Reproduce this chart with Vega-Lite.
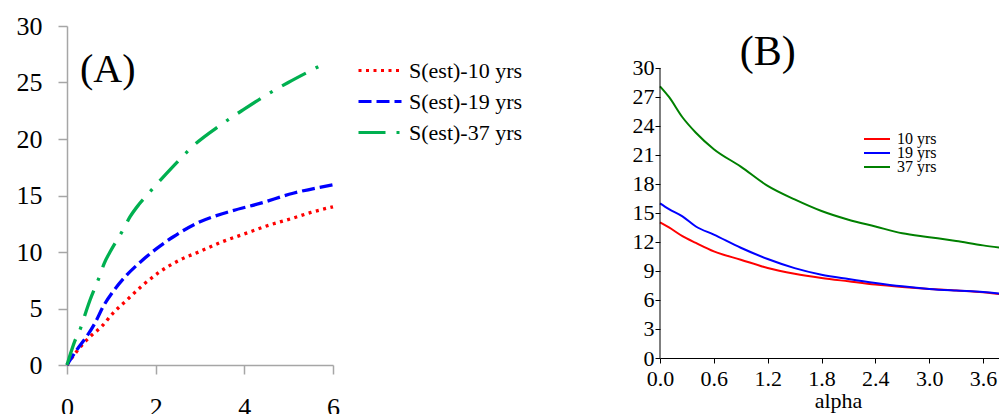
{
  "$schema": "https://vega.github.io/schema/vega-lite/v6.json",
  "background": "white",
  "padding": {"left": 16, "top": 13, "right": 0, "bottom": 0},
  "spacing": 109,
  "resolve": {"scale": {"color": "independent", "strokeDash": "independent", "x": "independent", "y": "independent"}, "legend": {"color": "independent", "strokeDash": "independent"}},
  "config": {
    "view": {"stroke": null},
    "font": "Liberation Serif",
    "axis": {"labelFont": "Liberation Serif", "titleFont": "Liberation Serif", "grid": false, "labelColor": "black", "titleColor": "black", "labelOverlap": false},
    "legend": {"labelFont": "Liberation Serif", "labelColor": "black"}
  },
  "hconcat": [
    {
      "width": 266,
      "height": 339,
      "layer": [
        {
          "data": {"values": [
            {"x": 0, "y": 0, "series": "S(est)-10 yrs"},
            {"x": 0.3, "y": 1.6, "series": "S(est)-10 yrs"},
            {"x": 0.52, "y": 2.5, "series": "S(est)-10 yrs"},
            {"x": 0.78, "y": 3.4, "series": "S(est)-10 yrs"},
            {"x": 1.04, "y": 4.6, "series": "S(est)-10 yrs"},
            {"x": 1.35, "y": 5.75, "series": "S(est)-10 yrs"},
            {"x": 1.72, "y": 7.1, "series": "S(est)-10 yrs"},
            {"x": 2.1, "y": 8.26, "series": "S(est)-10 yrs"},
            {"x": 2.55, "y": 9.3, "series": "S(est)-10 yrs"},
            {"x": 3.0, "y": 10.05, "series": "S(est)-10 yrs"},
            {"x": 3.5, "y": 10.9, "series": "S(est)-10 yrs"},
            {"x": 4.0, "y": 11.6, "series": "S(est)-10 yrs"},
            {"x": 4.5, "y": 12.3, "series": "S(est)-10 yrs"},
            {"x": 5.1, "y": 13.0, "series": "S(est)-10 yrs"},
            {"x": 5.5, "y": 13.5, "series": "S(est)-10 yrs"},
            {"x": 6.0, "y": 14.0, "series": "S(est)-10 yrs"},
            {"x": 0, "y": 0, "series": "S(est)-19 yrs"},
            {"x": 0.22, "y": 1.33, "series": "S(est)-19 yrs"},
            {"x": 0.44, "y": 2.5, "series": "S(est)-19 yrs"},
            {"x": 0.63, "y": 3.7, "series": "S(est)-19 yrs"},
            {"x": 0.82, "y": 5.2, "series": "S(est)-19 yrs"},
            {"x": 1.04, "y": 6.5, "series": "S(est)-19 yrs"},
            {"x": 1.31, "y": 7.8, "series": "S(est)-19 yrs"},
            {"x": 1.65, "y": 9.1, "series": "S(est)-19 yrs"},
            {"x": 2.02, "y": 10.3, "series": "S(est)-19 yrs"},
            {"x": 2.4, "y": 11.35, "series": "S(est)-19 yrs"},
            {"x": 2.96, "y": 12.6, "series": "S(est)-19 yrs"},
            {"x": 3.6, "y": 13.5, "series": "S(est)-19 yrs"},
            {"x": 4.35, "y": 14.3, "series": "S(est)-19 yrs"},
            {"x": 5.1, "y": 15.2, "series": "S(est)-19 yrs"},
            {"x": 6.0, "y": 15.95, "series": "S(est)-19 yrs"},
            {"x": 0, "y": 0, "series": "S(est)-37 yrs"},
            {"x": 0.18, "y": 2.15, "series": "S(est)-37 yrs"},
            {"x": 0.31, "y": 3.3, "series": "S(est)-37 yrs"},
            {"x": 0.41, "y": 4.5, "series": "S(est)-37 yrs"},
            {"x": 0.52, "y": 5.75, "series": "S(est)-37 yrs"},
            {"x": 0.73, "y": 7.8, "series": "S(est)-37 yrs"},
            {"x": 0.84, "y": 9.0, "series": "S(est)-37 yrs"},
            {"x": 0.97, "y": 10.0, "series": "S(est)-37 yrs"},
            {"x": 1.27, "y": 12.0, "series": "S(est)-37 yrs"},
            {"x": 1.42, "y": 13.1, "series": "S(est)-37 yrs"},
            {"x": 1.62, "y": 14.2, "series": "S(est)-37 yrs"},
            {"x": 1.82, "y": 15.1, "series": "S(est)-37 yrs"},
            {"x": 2.4, "y": 17.6, "series": "S(est)-37 yrs"},
            {"x": 2.85, "y": 19.4, "series": "S(est)-37 yrs"},
            {"x": 3.45, "y": 21.2, "series": "S(est)-37 yrs"},
            {"x": 3.98, "y": 22.6, "series": "S(est)-37 yrs"},
            {"x": 4.5, "y": 23.9, "series": "S(est)-37 yrs"},
            {"x": 4.99, "y": 25.0, "series": "S(est)-37 yrs"},
            {"x": 5.52, "y": 26.1, "series": "S(est)-37 yrs"},
            {"x": 5.82, "y": 26.7, "series": "S(est)-37 yrs"}
          ]},
          "mark": {"type": "line", "interpolate": "monotone", "strokeWidth": 3.3},
          "encoding": {
            "x": {"field": "x", "type": "quantitative", "scale": {"domain": [0, 6], "nice": false},
              "axis": {"values": [0, 2, 4, 6], "format": "d", "title": null, "labelFontSize": 26, "labelPadding": 20, "labelFlush": false, "labelOverlap": false, "tickSize": 9, "domainColor": "#a6a6a6", "tickColor": "#a6a6a6", "domainWidth": 1.5, "tickWidth": 1.5}},
            "y": {"field": "y", "type": "quantitative", "scale": {"domain": [0, 30], "nice": false},
              "axis": {"values": [0, 5, 10, 15, 20, 25, 30], "format": "d", "tickCount": 10, "title": null, "labelFontSize": 26, "labelPadding": 16, "labelOverlap": false, "tickSize": 9, "domainColor": "#a6a6a6", "tickColor": "#a6a6a6", "domainWidth": 1.5, "tickWidth": 1.5}},
            "color": {"field": "series", "type": "nominal", "title": null,
              "scale": {"domain": ["S(est)-10 yrs", "S(est)-19 yrs", "S(est)-37 yrs"], "range": ["#ff0000", "#0000ff", "#00b050"]},
              "legend": {"orient": "none", "legendX": 290, "legendY": 29, "labelFontSize": 22, "symbolType": "stroke", "symbolSize": 1849, "symbolStrokeWidth": 3, "labelOffset": 6, "rowPadding": 0, "clipHeight": 31}},
            "strokeDash": {"field": "series", "type": "nominal", "title": null,
              "scale": {"domain": ["S(est)-10 yrs", "S(est)-19 yrs", "S(est)-37 yrs"], "range": [[3, 4.5], [13, 5], [27, 11, 3, 11]]},
              "legend": {"orient": "none", "legendX": 290, "legendY": 29, "labelFontSize": 22, "symbolType": "stroke", "symbolSize": 1849, "symbolStrokeWidth": 3, "labelOffset": 6, "rowPadding": 0, "clipHeight": 31}}
          }
        },
        {
          "data": {"values": [{"label": "(A)", "x": 0.92, "y": 26.1}]},
          "mark": {"type": "text", "fontSize": 40, "font": "Liberation Serif", "align": "center", "baseline": "middle", "color": "black"},
          "encoding": {
            "x": {"field": "x", "type": "quantitative"},
            "y": {"field": "y", "type": "quantitative"},
            "text": {"field": "label"}
          }
        }
      ]
    },
    {
      "width": 341,
      "height": 332,
      "layer": [
        {
          "data": {"values": [
            {"alpha": 0, "value": 14.03, "series": "10 yrs"},
            {"alpha": 0.1, "value": 13.5, "series": "10 yrs"},
            {"alpha": 0.25, "value": 12.6, "series": "10 yrs"},
            {"alpha": 0.4, "value": 11.9, "series": "10 yrs"},
            {"alpha": 0.6, "value": 11.03, "series": "10 yrs"},
            {"alpha": 0.9, "value": 10.17, "series": "10 yrs"},
            {"alpha": 1.2, "value": 9.31, "series": "10 yrs"},
            {"alpha": 1.5, "value": 8.72, "series": "10 yrs"},
            {"alpha": 1.8, "value": 8.28, "series": "10 yrs"},
            {"alpha": 2.1, "value": 7.93, "series": "10 yrs"},
            {"alpha": 2.4, "value": 7.59, "series": "10 yrs"},
            {"alpha": 2.7, "value": 7.34, "series": "10 yrs"},
            {"alpha": 3.0, "value": 7.14, "series": "10 yrs"},
            {"alpha": 3.3, "value": 6.97, "series": "10 yrs"},
            {"alpha": 3.6, "value": 6.79, "series": "10 yrs"},
            {"alpha": 3.8, "value": 6.59, "series": "10 yrs"},
            {"alpha": 0, "value": 16.0, "series": "19 yrs"},
            {"alpha": 0.1, "value": 15.4, "series": "19 yrs"},
            {"alpha": 0.25, "value": 14.65, "series": "19 yrs"},
            {"alpha": 0.4, "value": 13.6, "series": "19 yrs"},
            {"alpha": 0.6, "value": 12.76, "series": "19 yrs"},
            {"alpha": 0.9, "value": 11.4, "series": "19 yrs"},
            {"alpha": 1.2, "value": 10.24, "series": "19 yrs"},
            {"alpha": 1.5, "value": 9.3, "series": "19 yrs"},
            {"alpha": 1.8, "value": 8.62, "series": "19 yrs"},
            {"alpha": 2.1, "value": 8.17, "series": "19 yrs"},
            {"alpha": 2.4, "value": 7.76, "series": "19 yrs"},
            {"alpha": 2.7, "value": 7.41, "series": "19 yrs"},
            {"alpha": 3.0, "value": 7.14, "series": "19 yrs"},
            {"alpha": 3.3, "value": 6.97, "series": "19 yrs"},
            {"alpha": 3.6, "value": 6.83, "series": "19 yrs"},
            {"alpha": 3.8, "value": 6.66, "series": "19 yrs"},
            {"alpha": 0, "value": 28.1, "series": "37 yrs"},
            {"alpha": 0.1, "value": 27.0, "series": "37 yrs"},
            {"alpha": 0.25, "value": 24.9, "series": "37 yrs"},
            {"alpha": 0.4, "value": 23.3, "series": "37 yrs"},
            {"alpha": 0.6, "value": 21.6, "series": "37 yrs"},
            {"alpha": 0.9, "value": 19.8, "series": "37 yrs"},
            {"alpha": 1.2, "value": 17.8, "series": "37 yrs"},
            {"alpha": 1.5, "value": 16.4, "series": "37 yrs"},
            {"alpha": 1.8, "value": 15.2, "series": "37 yrs"},
            {"alpha": 2.1, "value": 14.3, "series": "37 yrs"},
            {"alpha": 2.4, "value": 13.6, "series": "37 yrs"},
            {"alpha": 2.7, "value": 12.9, "series": "37 yrs"},
            {"alpha": 3.0, "value": 12.5, "series": "37 yrs"},
            {"alpha": 3.3, "value": 12.1, "series": "37 yrs"},
            {"alpha": 3.6, "value": 11.65, "series": "37 yrs"},
            {"alpha": 3.8, "value": 11.4, "series": "37 yrs"}
          ]},
          "mark": {"type": "line", "interpolate": "monotone", "strokeWidth": 2},
          "encoding": {
            "x": {"field": "alpha", "type": "quantitative", "scale": {"domain": [0, 3.8], "nice": false},
              "axis": {"values": [0, 0.6, 1.2, 1.8, 2.4, 3.0, 3.6], "tickCount": 12, "format": ".1f", "title": "alpha", "labelFontSize": 22, "labelPadding": 5, "labelFlush": false, "labelOverlap": false, "tickSize": 5, "domainColor": "black", "tickColor": "black", "titleFontSize": 22, "titleFontWeight": "normal", "titlePadding": 1, "titleX": 178}},
            "y": {"field": "value", "type": "quantitative", "scale": {"domain": [0, 34.34], "nice": false},
              "axis": {"values": [0, 3, 6, 9, 12, 15, 18, 21, 24, 27, 30], "format": "d", "tickCount": 14, "title": null, "domain": false, "labelFontSize": 22, "labelPadding": 1, "labelOverlap": false, "tickSize": 5, "tickColor": "black"}},
            "color": {"field": "series", "type": "nominal", "title": null,
              "scale": {"domain": ["10 yrs", "19 yrs", "37 yrs"], "range": ["#ff0000", "#0000ff", "#008000"]},
              "legend": {"orient": "none", "legendX": 203, "legendY": 107, "labelFontSize": 16, "symbolType": "stroke", "symbolSize": 676, "symbolStrokeWidth": 2, "labelOffset": 6, "rowPadding": -2, "clipHeight": 12}}
          }
        },
        {
          "data": {"values": [{"a0": 0, "v0": 0, "v1": 30}]},
          "mark": {"type": "rule", "color": "black", "strokeWidth": 1},
          "encoding": {
            "x": {"field": "a0", "type": "quantitative"},
            "y": {"field": "v0", "type": "quantitative"},
            "y2": {"field": "v1"}
          }
        },
        {
          "data": {"values": [{"label": "(B)", "alpha": 1.2, "value": 31.65}]},
          "mark": {"type": "text", "fontSize": 42, "font": "Liberation Serif", "align": "center", "baseline": "middle", "color": "black"},
          "encoding": {
            "x": {"field": "alpha", "type": "quantitative"},
            "y": {"field": "value", "type": "quantitative"},
            "text": {"field": "label"}
          }
        }
      ]
    }
  ]
}
